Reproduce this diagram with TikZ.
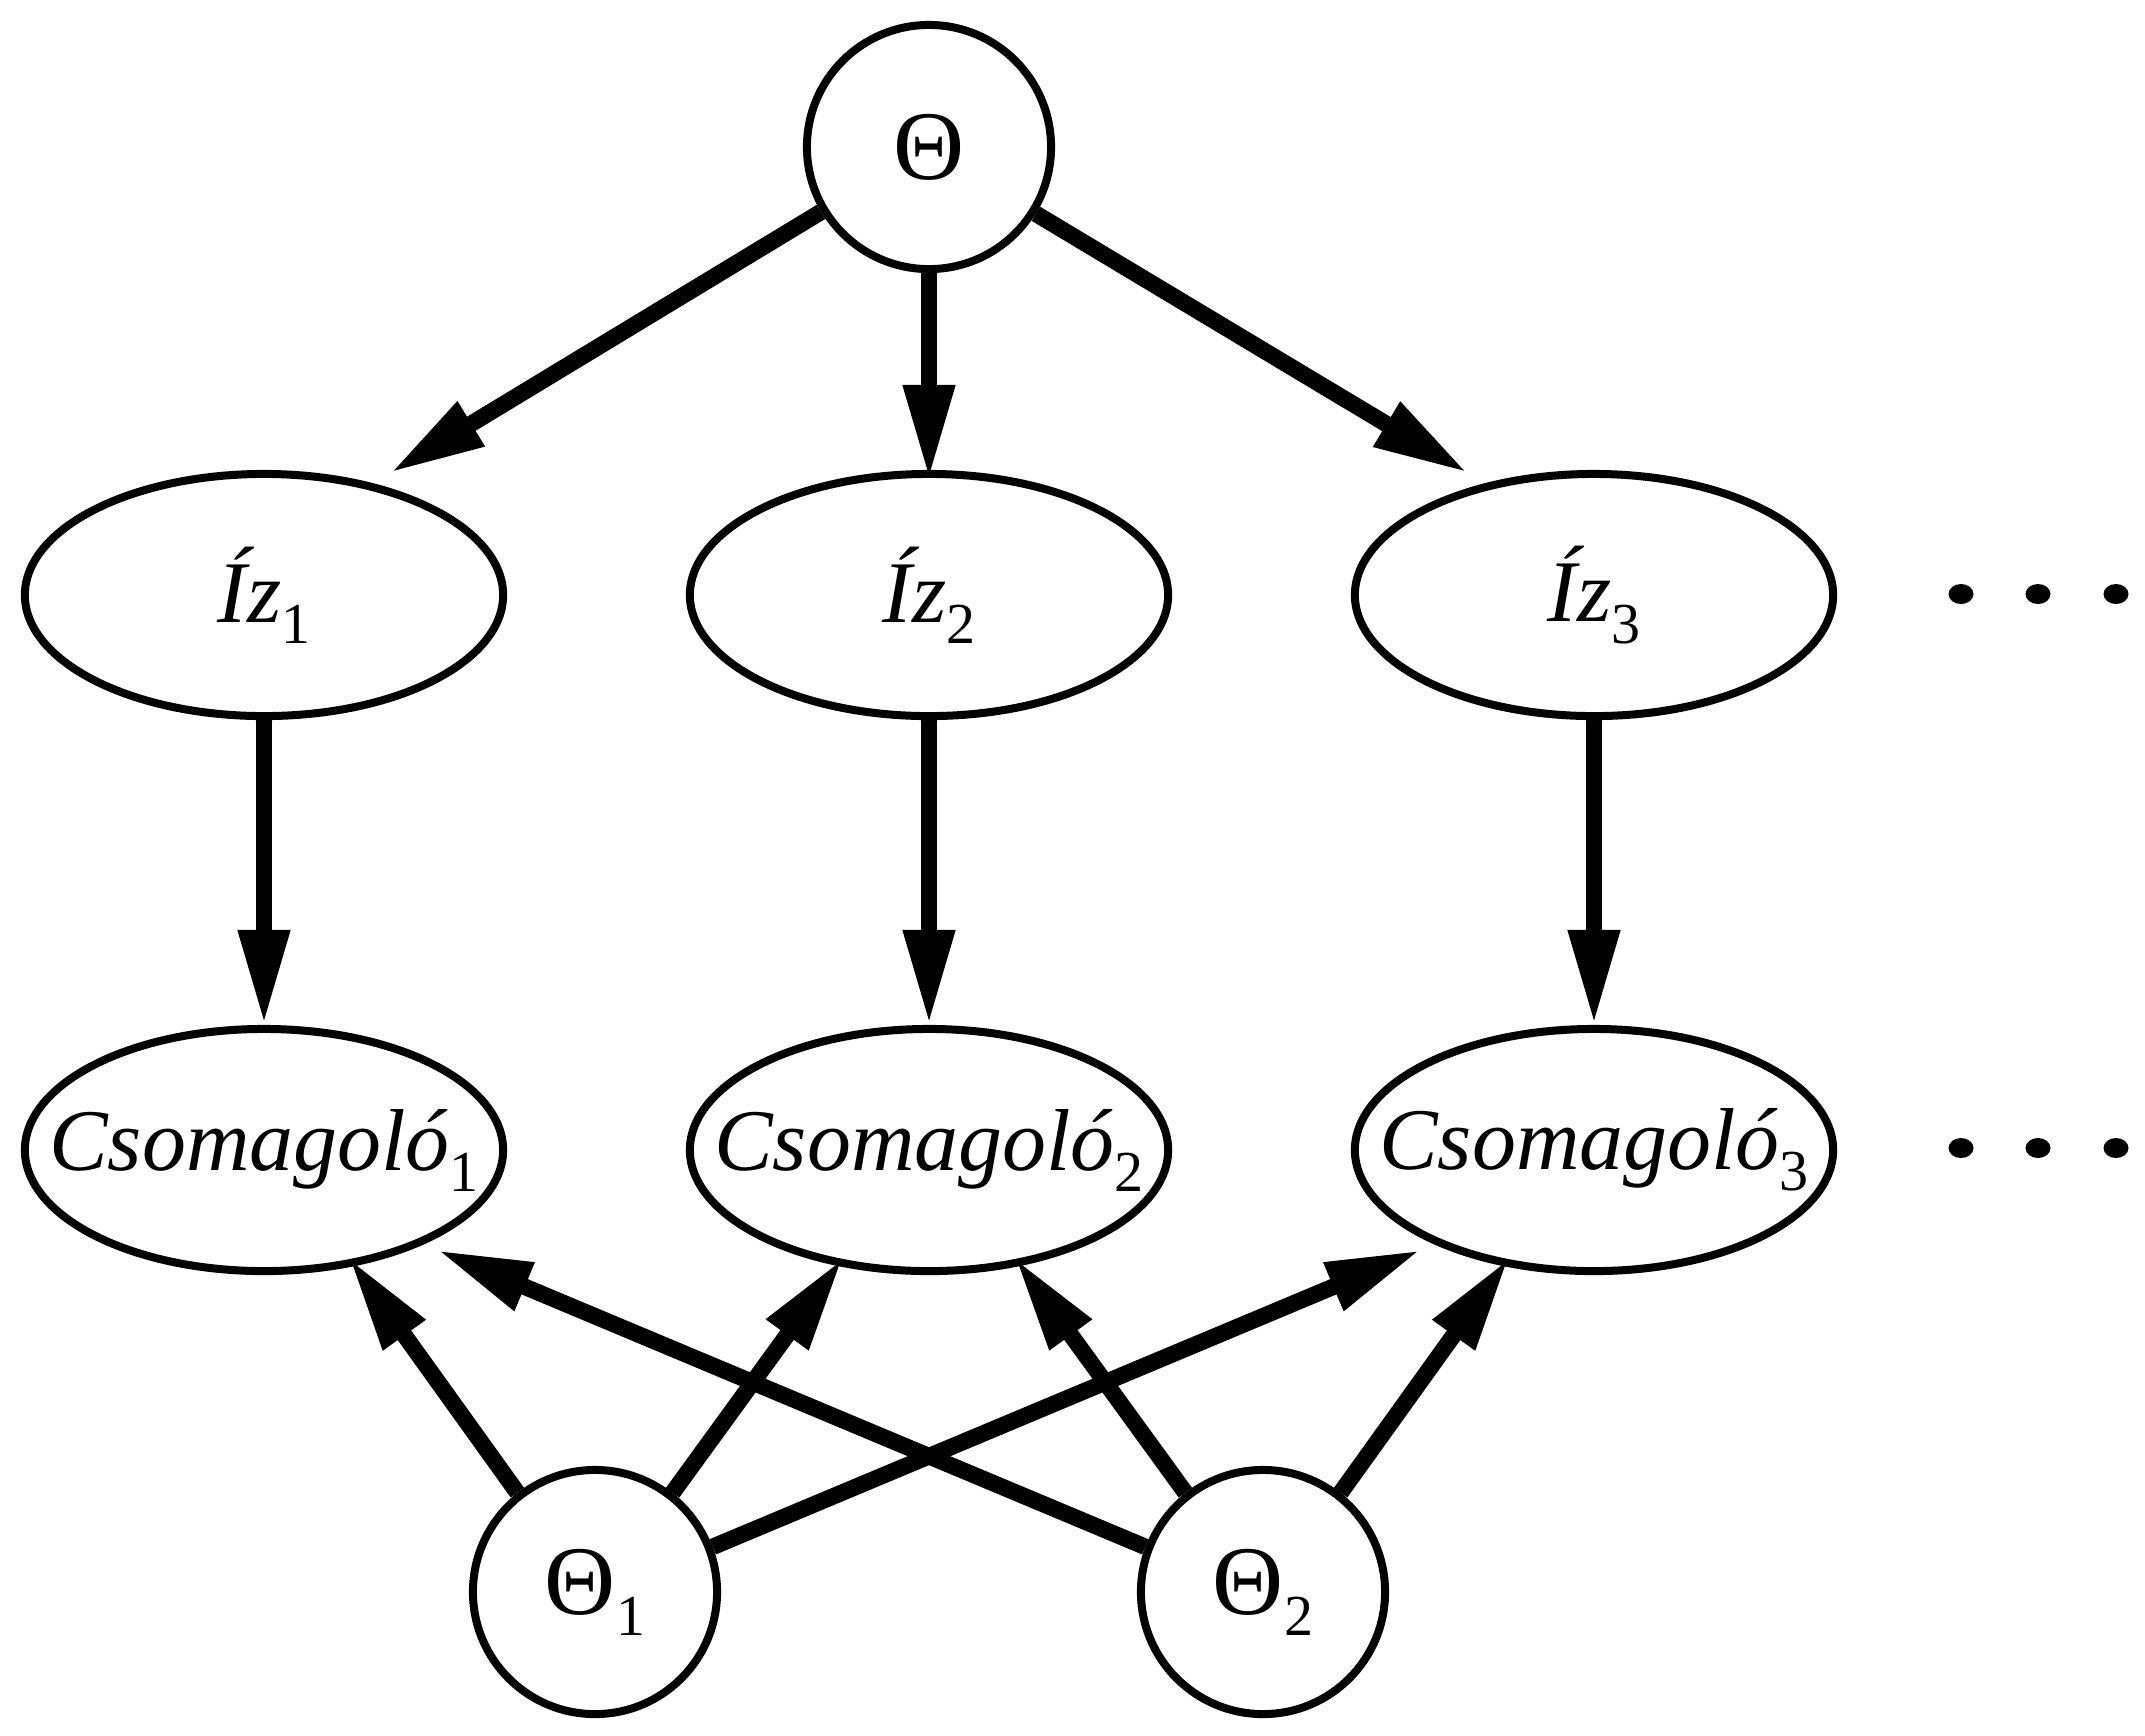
\documentclass[tikz,border=0pt]{standalone}
\usepackage{fontspec}
\setmainfont{Liberation Serif}
\usetikzlibrary{shapes.geometric,arrows.meta,calc}
\newcommand{\lab}[2]{\makebox[0pt][c]{#1\raisebox{-6pt}{\fontsize{16.5pt}{16.5pt}\selectfont #2}}}
\newcommand{\bigth}{{\fontsize{28pt}{30pt}\selectfont Θ}}
\begin{document}
\begin{tikzpicture}[x=0.01cm,y=-0.01cm,
  every node/.style={font=\fontsize{25pt}{30pt}\selectfont},
  ell/.style={ellipse, draw, line width=0.08cm, minimum width=4.78cm, minimum height=2.42cm, inner sep=0pt},
  circ/.style={circle, draw, line width=0.08cm, minimum size=2.44cm, inner sep=0pt},
  arr/.style={line width=0.165cm, -{Triangle[length=0.95cm,width=0.48cm]}},
  dotn/.style={ellipse, fill, minimum width=0.25cm, minimum height=0.2cm, inner sep=0pt}]
\useasboundingbox (0,0) rectangle (2145,1735);
\node[circ] (theta) at (929,147) {\bigth};
\node[ell] (iz1) at (264,595) {\lab{\textit{Íz}}{1}};
\node[ell] (iz2) at (929,595) {\lab{\textit{Íz}}{2}};
\node[ell] (iz3) at (1594,595) {\lab{\textit{Íz}}{3}};
\node[ell] (c1) at (264,1150) {\lab{\textit{Csomagoló}}{1}};
\node[ell] (c2) at (929,1150) {\lab{\textit{Csomagoló}}{2}};
\node[ell] (c3) at (1594,1150) {\lab{\textit{Csomagoló}}{3}};
\node[circ] (th1) at (595,1592) {\lab{\bigth}{1}};
\node[circ] (th2) at (1263,1592) {\lab{\bigth}{2}};
\node[dotn] (d1) at (1961,594) {};
\node[dotn] (d2) at (2038,594) {};
\node[dotn] (d3) at (2116,594) {};
\node[dotn] (e1) at (1961,1148) {};
\node[dotn] (e2) at (2038,1148) {};
\node[dotn] (e3) at (2116,1148) {};
\draw[arr] (theta.211.7) -- ($(iz1.center)+(126,-122)$);
\draw[arr] (theta.south) -- ($(iz2.center)+(0,-115)$);
\draw[arr] (theta.328.3) -- ($(iz3.center)+(-126,-122)$);
\draw[arr] (iz1.south) -- ($(c1.center)+(0,-125)$);
\draw[arr] (iz2.south) -- ($(c2.center)+(0,-125)$);
\draw[arr] (iz3.south) -- ($(c3.center)+(0,-125)$);
\draw[arr] (th1.128) -- ($(c1.center)+(85,108)$);
\draw[arr] (th1.52) -- ($(c2.center)+(-86,108)$);
\draw[arr] (th1.21) -- ($(c3.center)+(-173,100)$);
\draw[arr] (th2.159) -- ($(c1.center)+(173,100)$);
\draw[arr] (th2.128) -- ($(c2.center)+(86,108)$);
\draw[arr] (th2.52) -- ($(c3.center)+(-85,108)$);
\end{tikzpicture}
\end{document}
